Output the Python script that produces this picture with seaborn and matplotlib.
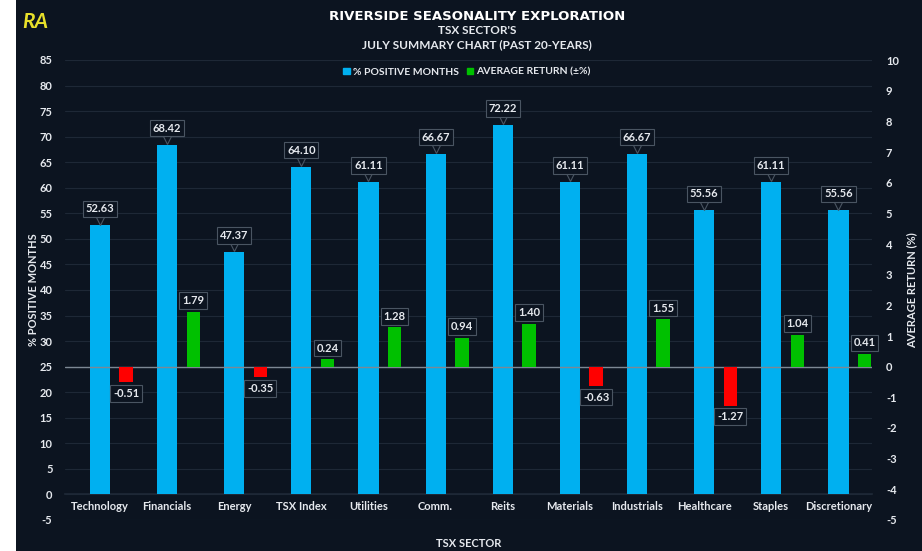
import numpy as np
import pandas as pd
import matplotlib.pyplot as plt
import matplotlib.transforms as mtransforms
import seaborn as sns
from matplotlib.patches import Rectangle, Patch

sectors = ['Technology', 'Financials', 'Energy', 'TSX Index', 'Utilities', 'Comm.',
           'Reits', 'Materials', 'Industrials', 'Healthcare', 'Staples', 'Discretionary']
pct_positive = [52.63, 68.42, 47.37, 64.10, 61.11, 66.67, 72.22, 61.11, 66.67, 55.56, 61.11, 55.56]
avg_return = [-0.51, 1.79, -0.35, 0.24, 1.28, 0.94, 1.40, -0.63, 1.55, -1.27, 1.04, 0.41]

BG = '#0c1420'
BLUE = '#00b0f0'
GREEN = '#00c000'
RED = '#ff0000'
TXT = '#e6e9ee'
GRID = '#1e2836'
FONT = ['Lato', 'DejaVu Sans']

sns.set_theme(style='dark')
plt.rcParams['font.family'] = FONT
plt.rcParams['font.weight'] = 'bold'
plt.rcParams['axes.unicode_minus'] = False

df = pd.DataFrame({'sector': sectors, 'pct': pct_positive, 'ret': avg_return})
df['pos'] = np.arange(len(df))
df['ret_pos'] = df['pos'] + 0.39
df['sign'] = np.where(df['ret'] >= 0, 'up', 'down')

fig = plt.figure(figsize=(9.22, 5.51), dpi=100, facecolor='white')
fig.patches.append(Rectangle((16 / 922, 0), 1, 1, transform=fig.transFigure,
                             facecolor=BG, edgecolor='none', zorder=-10))
ax = fig.add_axes([65 / 922, 1 - 520 / 551, (872 - 65) / 922, 460 / 551])
ax.set_facecolor(BG)
ax2 = ax.twinx()

sns.barplot(data=df, x='pos', y='pct', native_scale=True, width=0.3,
            color=BLUE, saturation=1, linewidth=0, ax=ax, zorder=3)
sns.barplot(data=df, x='ret_pos', y='ret', hue='sign', native_scale=True, width=0.2,
            palette={'up': GREEN, 'down': RED}, saturation=1, dodge=False,
            linewidth=0, legend=False, ax=ax2, zorder=3)

ax.set_ylim(-5, 85)
ax2.set_ylim(-5, 10)
ax.set_xlim(-0.52, 11.5)
ax2.set_xlim(-0.52, 11.5)
ax.set_yticks(np.arange(-5, 86, 5))
ax2.set_yticks(np.arange(-5, 11, 1))
ax.set_xticks(df['pos'])
ax.set_xticklabels(sectors)

ax.grid(axis='y', color=GRID, lw=0.8, zorder=0)
ax.grid(axis='x', visible=False)
ax2.grid(False)
for a in (ax, ax2):
    for s in a.spines.values():
        s.set_visible(False)
ax.spines['bottom'].set_visible(True)
ax.spines['bottom'].set_position(('data', 0))
ax.spines['bottom'].set_color(GRID)

ax.tick_params(axis='x', length=0, pad=5, labelsize=8, labelcolor=TXT)
ax.tick_params(axis='y', length=0, pad=9, labelsize=8, labelcolor=TXT)
ax2.tick_params(axis='y', length=0, pad=10, labelsize=8, labelcolor=TXT)
ax2.axhline(0, color='#7d8894', lw=1, zorder=2)

ax.set_xlabel('TSX SECTOR', color=TXT, fontsize=8, fontweight='bold')
ax.xaxis.set_label_coords(0.5, -0.04)
ax.set_ylabel('% POSITIVE MONTHS', color=TXT, fontsize=8, fontweight='bold')
ax.yaxis.set_label_coords(-26 / 807, 0.5)
ax2.set_ylabel('AVERAGE RETURN (%)', color=TXT, fontsize=8, fontweight='bold')
ax2.yaxis.set_label_coords(1 + 34 / 807, 0.5)

box = dict(boxstyle='square,pad=0.25', facecolor=BG, edgecolor='#4a5562', lw=0.8)
chevron = ax.transData + mtransforms.ScaledTranslation(0, 3.5 / 72, fig.dpi_scale_trans)
for p, v in zip(df['pos'], df['pct']):
    ax.annotate(f'{v:.2f}', xy=(p, v), xytext=(0, 12), textcoords='offset points',
                ha='center', va='center', fontsize=8, color=TXT, bbox=box, zorder=5)
    ax.plot(p, v, marker='v', markersize=6, markerfacecolor=BG, markeredgecolor='#4a5562',
            markeredgewidth=0.8, transform=chevron, zorder=4, linestyle='none')
for p, v in zip(df['ret_pos'], df['ret']):
    off = 8 if v >= 0 else -8
    ax2.annotate(f'{v:.2f}', xy=(p, v), xytext=(0, off), textcoords='offset points',
                 ha='center', va='center', fontsize=8, color=TXT, bbox=box, zorder=5)

fig.text(477 / 922, 1 - 16 / 551, 'RIVERSIDE SEASONALITY EXPLORATION', ha='center', va='center',
         fontsize=9.5, color='white', fontweight='heavy', family=['DejaVu Sans'])
fig.text(477 / 922, 1 - 31 / 551, "TSX SECTOR'S", ha='center', va='center', fontsize=8.5, color=TXT)
fig.text(477 / 922, 1 - 45 / 551, 'JULY SUMMARY CHART (PAST 20-YEARS)', ha='center', va='center',
         fontsize=8.5, color=TXT)
fig.text(22 / 922, 1 - 22 / 551, 'RA', ha='left', va='center', fontsize=15, color='#e8e02a',
         fontweight='bold', style='italic')

handles = [Patch(color=BLUE, label='% POSITIVE MONTHS'), Patch(color=GREEN, label='AVERAGE RETURN (±%)')]
leg = fig.legend(handles=handles, loc='center', bbox_to_anchor=(467 / 922, 1 - 72 / 551), ncol=2,
                 frameon=False, fontsize=7.5, handlelength=0.6, handleheight=0.6,
                 handletextpad=0.3, columnspacing=0.8)
for t in leg.get_texts():
    t.set_color(TXT)

fig.savefig('out.png', dpi=100, facecolor=fig.get_facecolor())
